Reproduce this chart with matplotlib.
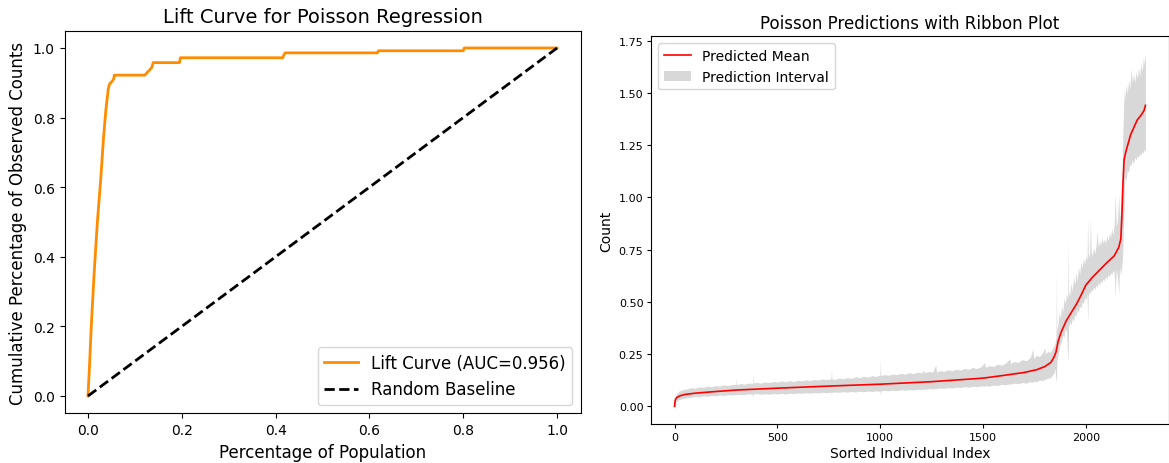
"""
Lift curve and ribbon plot for a Poisson regression model.
"""

import matplotlib
matplotlib.use("Agg")
import matplotlib.pyplot as plt

# --- lift curve ---
pop_frac = [0.0, 0.003, 0.007, 0.013, 0.020, 0.027, 0.033, 0.038, 0.043,
            0.045, 0.048, 0.052, 0.055, 0.056, 0.121, 0.125, 0.130, 0.136,
            0.139, 0.195, 0.197, 0.415, 0.417, 0.420, 0.617, 0.619, 0.800,
            0.802, 1.0]
cum_gain = [0.0, 0.080, 0.200, 0.350, 0.500, 0.620, 0.740, 0.820, 0.880,
            0.893, 0.900, 0.905, 0.912, 0.922, 0.922, 0.928, 0.935, 0.944,
            0.958, 0.958, 0.972, 0.972, 0.978, 0.986, 0.986, 0.992, 0.992,
            1.0, 1.0]
auc = 0.956

# --- ribbon plot: predicted mean ---
mean_idx = [0, 3, 10, 25, 50, 100, 200, 300, 500, 750, 1000, 1250, 1500,
            1600, 1700, 1760, 1800, 1830, 1845, 1855, 1865, 1880, 1905, 1930,
            1955, 1976, 2000, 2030, 2060, 2100, 2138, 2160, 2170, 2175, 2180,
            2186, 2195, 2218, 2250, 2270, 2283, 2290]
mean_val = [0.0, 0.030, 0.042, 0.050, 0.057, 0.063, 0.071, 0.078, 0.087,
            0.097, 0.106, 0.118, 0.135, 0.148, 0.162, 0.175, 0.190, 0.210,
            0.235, 0.260, 0.310, 0.355, 0.410, 0.450, 0.490, 0.530, 0.580,
            0.615, 0.645, 0.685, 0.720, 0.760, 0.800, 0.900, 1.050, 1.180,
            1.220, 1.300, 1.370, 1.395, 1.415, 1.440]

# --- ribbon plot: prediction interval (ragged edges read by eye) ---
band_idx = [
    0, 8, 20, 40, 60, 80, 100, 120, 140, 160, 180, 200, 220, 240, 260, 280,
    297, 299, 301, 320, 340, 360, 379, 381, 383, 400, 420, 440, 460, 480,
    500, 520, 540, 560, 580, 600, 620, 640, 660, 680, 700, 720, 740, 761,
    763, 765, 780, 800, 820, 840, 860, 880, 900, 920, 940, 960, 980, 999,
    1001, 1003, 1020, 1040, 1060, 1080, 1100, 1120, 1140, 1160, 1180, 1200,
    1210, 1214, 1240, 1255, 1270, 1274, 1290, 1310, 1330, 1350, 1370, 1390,
    1410, 1430, 1450, 1470, 1490, 1508, 1512, 1530, 1550, 1570, 1590, 1610,
    1630, 1634, 1650, 1670, 1690, 1710, 1730, 1742, 1746, 1760, 1775, 1790,
    1800, 1804, 1815, 1825, 1835, 1845, 1850, 1855, 1857, 1859, 1865, 1870,
    1876, 1882, 1888, 1894, 1900, 1906, 1912, 1914, 1916, 1922, 1928, 1934,
    1940, 1946, 1952, 1958, 1964, 1970, 1976, 1982, 1988, 1994, 2000, 2006,
    2009, 2012, 2018, 2022, 2026, 2032, 2038, 2044, 2050, 2055, 2060, 2066,
    2072, 2078, 2084, 2090, 2096, 2102, 2108, 2114, 2120, 2126, 2132, 2138,
    2143, 2148, 2154, 2160, 2164, 2168, 2172, 2176, 2180, 2184, 2188, 2192,
    2196, 2202, 2208, 2214, 2220, 2226, 2232, 2238, 2244, 2250, 2256, 2262,
    2268, 2274, 2280, 2284, 2287, 2290]
band_hi = [
    0.030, 0.058, 0.072, 0.080, 0.083, 0.089, 0.087, 0.093, 0.091, 0.097,
    0.094, 0.099, 0.097, 0.103, 0.100, 0.105, 0.103, 0.136, 0.104, 0.109,
    0.106, 0.112, 0.109, 0.158, 0.112, 0.115, 0.111, 0.117, 0.114, 0.119,
    0.116, 0.122, 0.118, 0.123, 0.119, 0.125, 0.122, 0.127, 0.123, 0.129,
    0.126, 0.131, 0.128, 0.132, 0.179, 0.131, 0.129, 0.136, 0.132, 0.138,
    0.134, 0.141, 0.137, 0.144, 0.140, 0.147, 0.143, 0.150, 0.226, 0.147,
    0.152, 0.149, 0.155, 0.152, 0.158, 0.154, 0.161, 0.157, 0.164, 0.160,
    0.174, 0.162, 0.167, 0.163, 0.198, 0.165, 0.171, 0.167, 0.175, 0.170,
    0.178, 0.173, 0.182, 0.177, 0.186, 0.181, 0.190, 0.210, 0.187, 0.195,
    0.191, 0.201, 0.197, 0.207, 0.228, 0.205, 0.215, 0.210, 0.224, 0.218,
    0.234, 0.275, 0.230, 0.244, 0.238, 0.257, 0.282, 0.250, 0.264, 0.257,
    0.272, 0.290, 0.300, 0.330, 0.641, 0.360, 0.400, 0.450, 0.420, 0.480,
    0.450, 0.520, 0.490, 0.540, 0.510, 0.800, 0.550, 0.530, 0.590, 0.550,
    0.620, 0.580, 0.640, 0.600, 0.670, 0.630, 0.690, 0.660, 0.710, 0.680,
    0.720, 0.700, 0.893, 0.730, 0.710, 0.896, 0.740, 0.720, 0.760, 0.730,
    0.770, 0.840, 0.760, 0.790, 0.770, 0.810, 0.780, 0.800, 0.780, 0.820,
    0.790, 0.830, 0.810, 0.850, 0.820, 0.870, 1.016, 0.860, 0.890, 1.015,
    0.900, 0.930, 1.010, 1.100, 1.300, 1.450, 1.520, 1.470, 1.540, 1.500,
    1.560, 1.520, 1.613, 1.550, 1.590, 1.550, 1.600, 1.570, 1.620, 1.580,
    1.640, 1.600, 1.670, 1.630, 1.686, 1.650]
band_lo = [
    0.000, 0.022, 0.032, 0.037, 0.041, 0.043, 0.047, 0.045, 0.050, 0.048,
    0.052, 0.050, 0.054, 0.052, 0.056, 0.054, 0.057, 0.057, 0.055, 0.058,
    0.056, 0.060, 0.058, 0.043, 0.059, 0.061, 0.058, 0.060, 0.058, 0.061,
    0.059, 0.062, 0.059, 0.063, 0.061, 0.064, 0.062, 0.065, 0.063, 0.066,
    0.064, 0.067, 0.065, 0.068, 0.051, 0.067, 0.069, 0.067, 0.070, 0.068,
    0.071, 0.069, 0.072, 0.070, 0.073, 0.071, 0.074, 0.072, 0.051, 0.074,
    0.076, 0.074, 0.077, 0.075, 0.079, 0.077, 0.080, 0.078, 0.082, 0.080,
    0.083, 0.081, 0.085, 0.083, 0.086, 0.084, 0.088, 0.086, 0.090, 0.088,
    0.092, 0.090, 0.094, 0.092, 0.096, 0.094, 0.098, 0.096, 0.099, 0.097,
    0.102, 0.100, 0.105, 0.103, 0.108, 0.106, 0.111, 0.108, 0.114, 0.111,
    0.118, 0.115, 0.121, 0.118, 0.126, 0.123, 0.131, 0.128, 0.136, 0.134,
    0.146, 0.160, 0.180, 0.123, 0.123, 0.210, 0.250, 0.270, 0.300, 0.310,
    0.340, 0.330, 0.370, 0.360, 0.227, 0.227, 0.380, 0.400, 0.390, 0.420,
    0.410, 0.440, 0.430, 0.460, 0.450, 0.480, 0.470, 0.500, 0.490, 0.520,
    0.510, 0.540, 0.394, 0.530, 0.550, 0.540, 0.560, 0.550, 0.570, 0.560,
    0.580, 0.570, 0.590, 0.580, 0.600, 0.590, 0.610, 0.600, 0.620, 0.610,
    0.630, 0.620, 0.640, 0.630, 0.650, 0.640, 0.530, 0.660, 0.617, 0.537,
    0.670, 0.630, 0.650, 0.680, 0.750, 0.900, 1.050, 1.100, 1.080, 1.130,
    1.120, 1.160, 1.150, 1.180, 1.160, 1.190, 1.180, 1.200, 1.190, 1.210,
    1.200, 1.220, 1.210, 1.230, 1.220, 1.230]

fig = plt.figure(figsize=(11.69, 4.64), dpi=100)

# left panel: lift curve
ax1 = fig.add_axes([0.0552, 0.1069, 0.4414, 0.8250])
ax1.plot(pop_frac, cum_gain, color="darkorange", lw=2,
         label=f"Lift Curve (AUC={auc:.3f})")
ax1.plot([0, 1], [0, 1], color="black", lw=2, linestyle="--",
         label="Random Baseline")
ax1.set_title("Lift Curve for Poisson Regression", fontsize=14)
ax1.set_xlabel("Percentage of Population", fontsize=12)
ax1.set_ylabel("Cumulative Percentage of Observed Counts", fontsize=12)
ax1.tick_params(labelsize=10)
ax1.legend(loc="lower right", fontsize=12)

# right panel: ribbon plot
ax2 = fig.add_axes([0.5569, 0.0841, 0.4431, 0.8355])
ribbon = ax2.fill_between(band_idx, band_lo, band_hi, color="gray",
                          alpha=0.3, linewidth=0, label="Prediction Interval")
line, = ax2.plot(mean_idx, mean_val, color="red", lw=1.2,
                 label="Predicted Mean")
ax2.set_title("Poisson Predictions with Ribbon Plot", fontsize=12)
ax2.set_xlabel("Sorted Individual Index", fontsize=10, labelpad=3)
ax2.set_ylabel("Count", fontsize=10)
ax2.tick_params(labelsize=8, length=3, pad=2.5)
ax2.set_yticks([0.0, 0.25, 0.5, 0.75, 1.0, 1.25, 1.5, 1.75])
ax2.legend(handles=[line, ribbon], loc="upper left", fontsize=10)

fig.savefig("out.png", dpi=100)
